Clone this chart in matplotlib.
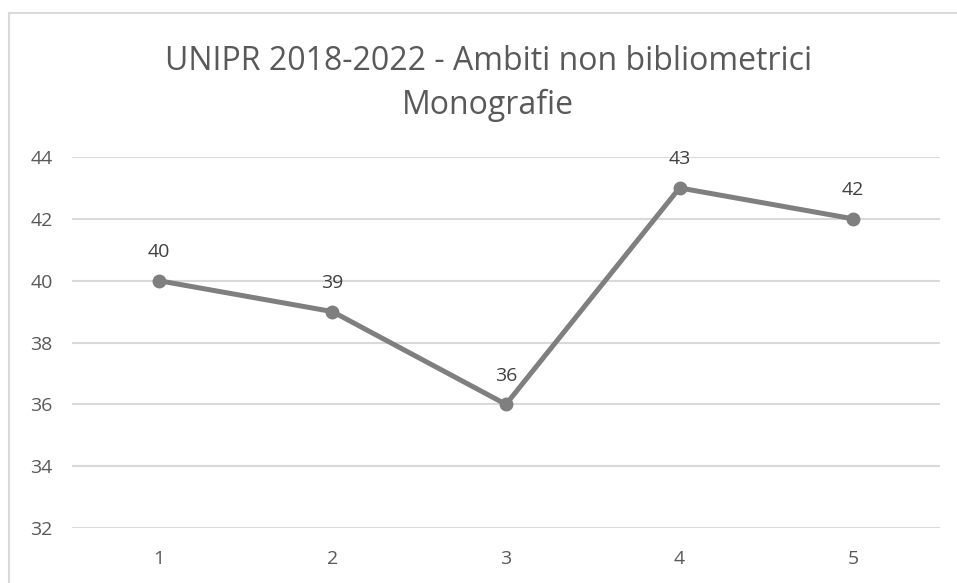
import matplotlib.pyplot as plt
from matplotlib.lines import Line2D

# Dati
anni = [1, 2, 3, 4, 5]
monografie = [40, 39, 36, 43, 42]
y_ticks = [32, 34, 36, 38, 40, 42, 44]

plt.rcParams['font.family'] = ['Open Sans', 'DejaVu Sans']

fig = plt.figure(figsize=(9.57, 5.83), dpi=100)
ax = fig.add_axes([0.0752, 0.0943, 0.907, 0.6364])

ax.plot(anni, monografie, color="#7f7f7f", linewidth=3.6,
        marker="o", markersize=9, solid_capstyle="round", zorder=3)

for x, y in zip(anni, monografie):
    ax.annotate(str(y), (x, y), xytext=(0, 14), textcoords="offset points",
                ha="center", va="bottom", fontsize=14, color="#404040")

ax.set_xlim(0.5, 5.5)
ax.set_ylim(32, 44)
ax.set_xticks(anni)
ax.set_yticks(y_ticks)
ax.tick_params(length=0, labelsize=14, labelcolor="#595959")
ax.tick_params(axis="x", pad=16)
ax.tick_params(axis="y", pad=14)
ax.grid(axis="y", color="#d9d9d9", linewidth=1.5)
ax.set_axisbelow(True)
for s in ax.spines.values():
    s.set_visible(False)

fig.text(0.51, 0.895, "UNIPR 2018-2022 - Ambiti non bibliometrici",
         ha="center", va="center", fontsize=23, color="#595959")
fig.text(0.51, 0.82, "Monografie",
         ha="center", va="center", fontsize=23, color="#595959")

# cornice del grafico
fig.add_artist(Line2D([8.5 / 957, 8.5 / 957], [0, 1 - 13 / 583],
                      transform=fig.transFigure, color="#d9d9d9", linewidth=1.5))
fig.add_artist(Line2D([8.5 / 957, 1], [1 - 13 / 583, 1 - 13 / 583],
                      transform=fig.transFigure, color="#d9d9d9", linewidth=1.5))

fig.savefig("out.png", dpi=100)
